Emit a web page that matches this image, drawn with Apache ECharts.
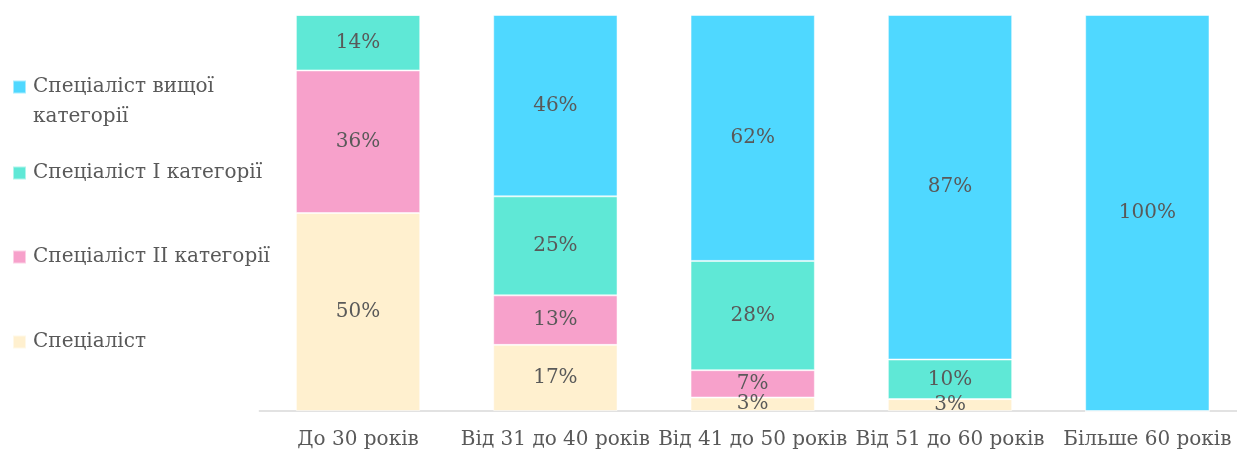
<!DOCTYPE html>
<html>
<head>
<meta charset="utf-8">
<script src="https://cdn.jsdelivr.net/npm/echarts@6/dist/echarts.min.js"></script>
<style>html,body{margin:0;padding:0;background:#fff;overflow:hidden}#c{width:1246px;height:455px}</style>
</head>
<body>
<div id="c"></div>
<script>
const categories = ['До 30 років', 'Від 31 до 40 років', 'Від 41 до 50 років', 'Від 51 до 60 років', 'Більше 60 років'];
const seriesNames = ['Спеціаліст', 'Спеціаліст II категорії', 'Спеціаліст I категорії', 'Спеціаліст вищої категорії'];
const specialist = [50, 16.7, 3.4, 3, 0];
const specialist2 = [36, 12.5, 6.9, 0, 0];
const specialist1 = [14, 25, 27.6, 10, 0];
const specialistTop = [0, 45.8, 62.1, 87, 100];

const colors = ['#FFF0CF', '#F7A1CB', '#5FE8D6', '#4FD8FF'];
const font = '"DejaVu Serif", "Liberation Serif", serif';
const textColor = '#595959';
const values = [specialist, specialist2, specialist1, specialistTop];

const series = seriesNames.map((name, i) => ({
  name: name,
  type: 'bar',
  stack: 'total',
  barCategoryGap: '37%',
  data: values[i],
  itemStyle: { color: colors[i], borderColor: 'rgba(255,255,255,0.5)', borderWidth: 1 },
  label: {
    show: true,
    position: 'inside',
    color: textColor,
    fontFamily: font,
    fontSize: 20,
    formatter: p => p.value > 0 ? Math.round(p.value) + '%' : ''
  },
  emphasis: { disabled: true }
}));

const legendTops = { 'Спеціаліст вищої категорії': 37, 'Спеціаліст I категорії': 153, 'Спеціаліст II категорії': 237, 'Спеціаліст': 322 };
const legends = Object.keys(legendTops).map(name => ({
  data: [name],
  left: 7,
  top: legendTops[name],
  orient: 'vertical',
  icon: 'rect',
  itemWidth: 13,
  itemHeight: 13,
  itemGap: 0,
  selectedMode: false,
  textStyle: { color: textColor, fontFamily: font, fontSize: 20, lineHeight: 30, padding: [0, 0, 0, 2] },
  formatter: n => n === 'Спеціаліст вищої категорії' ? ' \nСпеціаліст вищої\nкатегорії' : n
}));

const chart = echarts.init(document.getElementById('c'));
chart.setOption({
  animation: false,
  legend: legends,
  grid: { left: 259.4, right: 0, top: 15, bottom: 44, containLabel: false },
  xAxis: {
    type: 'category',
    data: categories,
    axisLine: { lineStyle: { color: '#D9D9D9', width: 1.5 } },
    axisTick: { show: false },
    axisLabel: { color: textColor, fontFamily: font, fontSize: 20, margin: 19, interval: 0 }
  },
  yAxis: { type: 'value', min: 0, max: 100, show: false, splitLine: { show: false } },
  series: series
});
</script>
</body>
</html>
